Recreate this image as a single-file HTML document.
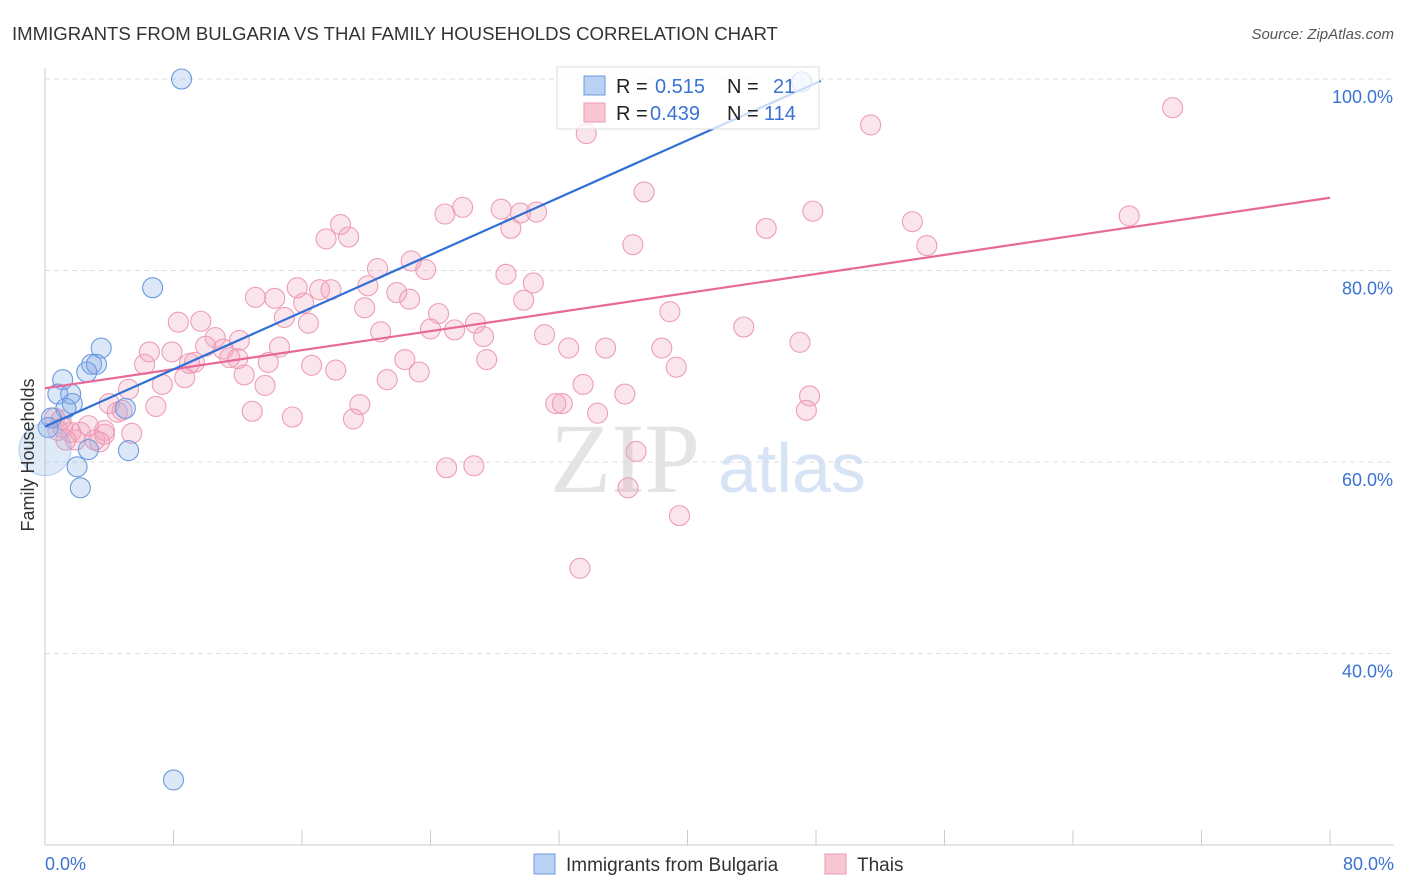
<!DOCTYPE html>
<html><head><meta charset="utf-8"><style>
body{margin:0;background:#fff;font-family:"Liberation Sans",sans-serif;}
svg{display:block}
</style></head><body>
<svg id="chart" width="1406" height="892">
<text x="12" y="40" font-size="18.6" fill="#333">IMMIGRANTS FROM BULGARIA VS THAI FAMILY HOUSEHOLDS CORRELATION CHART</text>
<text x="1394" y="39" font-size="15" fill="#555" font-style="italic" text-anchor="end">Source: ZipAtlas.com</text>
<text x="700" y="492" font-size="100" font-family="Liberation Serif,serif" fill="#e4e4e4" text-anchor="end">ZIP</text>
<text x="718" y="492" font-size="70" fill="#d6e4f5">atlas</text>
<g id="grid"></g>
<g id="marks"></g>
<text x="34" y="455" font-size="18" fill="#333" text-anchor="middle" transform="rotate(-90 34 455)">Family Households</text>
<g>
<rect x="557" y="67" width="262" height="62" fill="rgba(255,255,255,0.75)" stroke="#ddd"/>
<rect x="584" y="76" width="21" height="19" fill="#b9d1f3" stroke="#6d9be0"/>
<rect x="584" y="103" width="21" height="19" fill="#f9c6d4" stroke="#ee98b2"/>
<text x="616" y="93" font-size="20" fill="#222">R = </text><text x="655" y="93" font-size="20" fill="#3a73d2">0.515</text>
<text x="727" y="93" font-size="20" fill="#222">N =</text><text x="773" y="93" font-size="20" fill="#3a73d2">21</text>
<text x="616" y="120" font-size="20" fill="#222">R = </text><text x="650" y="120" font-size="20" fill="#3a73d2">0.439</text>
<text x="727" y="120" font-size="20" fill="#222">N =</text><text x="764" y="120" font-size="20" fill="#3a73d2">114</text>
</g>
<g>
<rect x="534" y="854" width="21" height="20" fill="#b9d1f3" stroke="#6d9be0"/>
<text x="566" y="871" font-size="19" fill="#333">Immigrants from Bulgaria</text>
<rect x="825" y="854" width="21" height="20" fill="#f9c6d4" stroke="#ee98b2"/>
<text x="857" y="871" font-size="19" fill="#333">Thais</text>
</g>
</svg>
<script>
const xTicks=[0,10,20,30,40,50,60,70,80];
const yTicks=[40,60,80,100];
const yTickLabels=["40.0%","60.0%","80.0%","100.0%"];
const xEndLabels=["0.0%","80.0%"];
const bulgariaX=[8.5,47.1,6.7,3.5,2.9,3.2,2.6,1.1,0.8,1.6,1.7,1.3,5.0,0.4,0.2,2.7,5.2,2.0,2.2,8.0,0.0];
const bulgariaY=[100.0,99.7,78.2,71.9,70.2,70.2,69.4,68.6,67.1,67.1,66.1,65.6,65.6,64.6,63.6,61.3,61.2,59.5,57.3,26.8,61.3];
const bulgariaR=[10,10,10,10,10,10,10,10,10,10,10,10,10,10,10,10,10,10,10,10,26];
const thaiX=[70.2,51.4,33.7,37.3,47.8,54.0,67.5,24.9,26.0,28.4,29.6,30.6,29.0,18.4,17.5,18.9,36.6,44.9,54.9,22.8,20.7,23.7,28.7,30.4,15.7,17.1,17.8,20.1,21.9,22.7,13.1,14.3,16.1,19.9,29.8,38.9,14.9,16.4,24.5,25.5,26.8,24.0,20.9,31.1,43.5,8.3,9.7,10.6,12.1,27.3,32.6,34.9,38.4,47.0,6.5,7.9,10.0,11.1,14.6,12.0,13.9,9.3,9.0,6.2,16.6,18.1,22.4,23.3,27.5,39.3,12.4,8.7,7.3,13.7,21.3,33.5,5.2,36.1,47.6,4.0,6.9,12.9,15.4,19.2,19.6,31.8,32.2,34.4,47.4,4.5,4.8,1.0,2.7,3.7,5.4,1.6,2.2,3.4,1.3,0.8,36.8,25.0,26.7,36.3,39.5,33.3,11.5,0.6,1.1,1.9,3.1,3.7];
const thaiY=[97.0,95.2,94.3,88.2,86.2,85.1,85.7,85.9,86.6,86.4,86.0,86.1,84.4,84.8,83.3,83.5,82.7,84.4,82.6,81.0,80.2,80.1,79.6,78.7,78.2,78.0,78.0,78.4,77.7,77.0,77.2,77.1,76.6,76.1,76.9,75.7,75.1,74.5,75.5,73.8,74.5,73.9,73.6,73.3,74.1,74.6,74.7,73.0,72.7,73.1,71.9,71.9,71.9,72.5,71.5,71.5,72.1,71.8,72.0,70.8,70.4,70.4,70.3,70.2,70.1,69.6,70.7,69.4,70.7,69.9,69.1,68.8,68.1,68.0,68.6,68.1,67.6,67.1,66.9,66.1,65.8,65.3,64.7,64.5,66.0,66.1,66.1,65.1,65.4,65.2,65.4,64.4,63.8,62.9,63.0,63.1,63.1,62.1,62.3,63.3,61.1,59.4,59.6,57.3,54.4,48.9,70.9,64.6,63.6,62.3,62.3,63.3];
const bulgariaTrend=[[0,63.7],[48.3,99.8]];
const thaiTrend=[[0,67.7],[80,87.6]];

const NS="http://www.w3.org/2000/svg";
const X=v=>45+v/80*1285;
const Y=v=>79+(100-v)/20*191.5;
function mk(tag,attrs,parent){const e=document.createElementNS(NS,tag);for(const k in attrs)e.setAttribute(k,attrs[k]);parent.appendChild(e);return e;}
const grid=document.getElementById('grid'),marks=document.getElementById('marks');
yTicks.forEach((t,i)=>{
  const l=mk('line',{x1:45,x2:1394,y1:Y(t),y2:Y(t),stroke:'#ddd','stroke-dasharray':'5,4'},grid);
  
  
  const tx=mk('text',{x:1393,y:Y(t)+24,'font-size':18,fill:'#3a73d2','text-anchor':'end'},grid);
  tx.textContent=yTickLabels[i];
  
  
});
const ax=mk('line',{x1:45,x2:1394,y1:845,y2:845,stroke:'#ccc'},grid);


const ay=mk('line',{x1:45,x2:45,y1:68,y2:845,stroke:'#ccc'},grid);


for(let v=0;v<=80;v+=8){
  const t=mk('line',{x1:X(v),x2:X(v),y1:830,y2:845,stroke:'#ccc'},grid);
  
  
}
[[0,'start',45],[80,'end',1394]].forEach((a,i)=>{
  const tx=mk('text',{x:a[2],y:870,'font-size':18,fill:'#3a73d2','text-anchor':a[1]},grid);
  tx.textContent=xEndLabels[i];
  
  
});
thaiX.forEach((x,i)=>{
  const c=mk('circle',{cx:X(x),cy:Y(thaiY[i]),r:10,fill:'rgba(242,160,185,0.28)',stroke:'#ee9db5','stroke-width':1.1},marks);
  
  
});
bulgariaX.forEach((x,i)=>{
  const big=bulgariaR[i]>15;
  const c=mk('circle',{cx:X(x),cy:Y(bulgariaY[i]),r:bulgariaR[i],fill:big?'rgba(150,185,235,0.3)':'rgba(130,170,230,0.28)',stroke:big?'rgba(110,155,225,0.4)':'#6a9be0','stroke-width':1.1},marks);
  
  
});
const tp=mk('line',{x1:X(thaiTrend[0][0]),y1:Y(thaiTrend[0][1]),x2:X(thaiTrend[1][0]),y2:Y(thaiTrend[1][1]),stroke:'#e8689a','stroke-width':2.2},marks);


const bp=mk('line',{x1:X(bulgariaTrend[0][0]),y1:Y(bulgariaTrend[0][1]),x2:X(bulgariaTrend[1][0]),y2:Y(bulgariaTrend[1][1]),stroke:'#2f6fd6','stroke-width':2.2},marks);


</script>
</body></html>
